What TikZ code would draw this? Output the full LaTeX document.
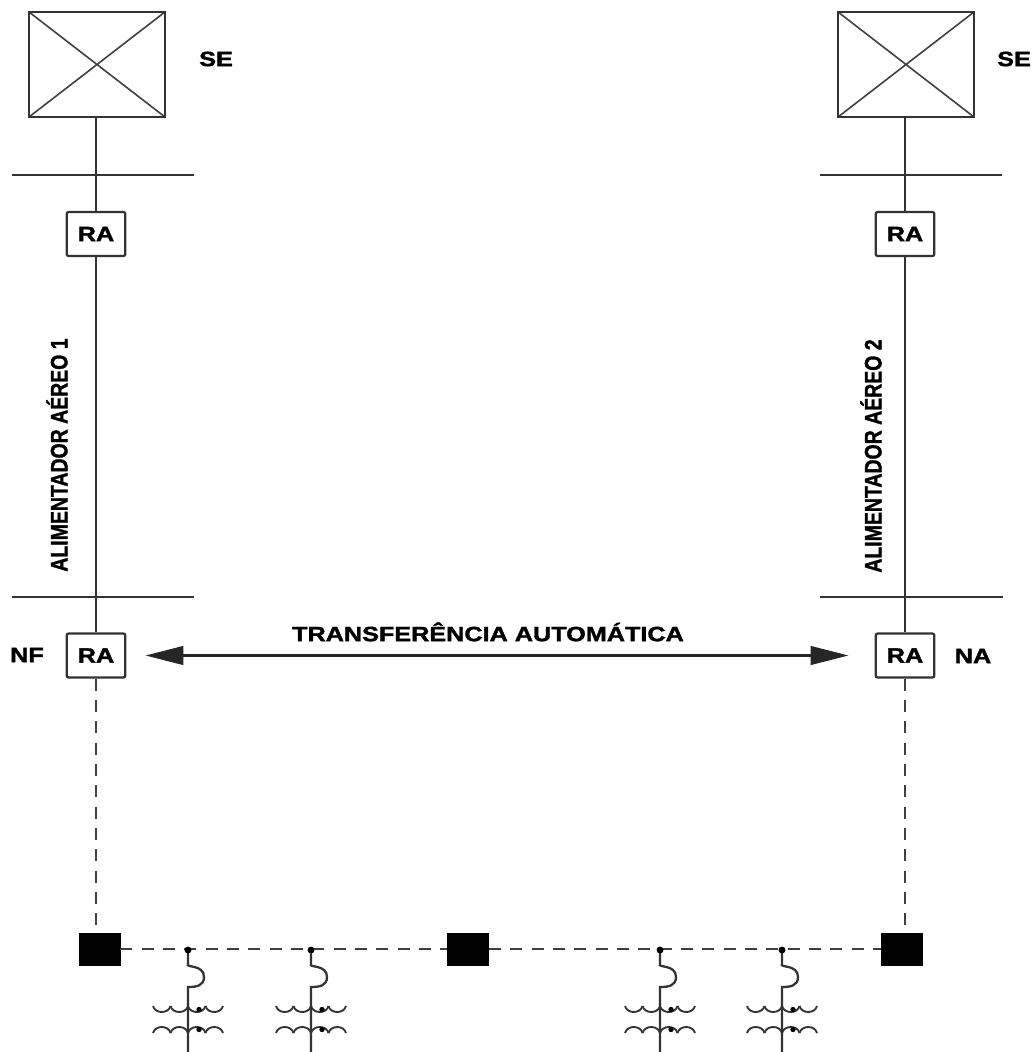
\documentclass[tikz,border=0pt]{standalone}
\usepackage{fontspec}
\usepackage{graphicx}
\setmainfont{Liberation Sans}[BoldFeatures={FakeBold=1.6}]
\usetikzlibrary{arrows.meta}
\tikzset{
  wire/.style={line width=1.7pt, draw=black!80},
  dwire/.style={line width=1.7pt, draw=black!75, dash pattern=on 9pt off 7pt},
  sebox/.style={draw=black!80, line width=1.9pt, minimum width=102pt, minimum height=78.75pt, inner sep=0pt,
    path picture={\draw[line width=1.2pt, black!75] (path picture bounding box.north west) -- (path picture bounding box.south east)
      (path picture bounding box.south west) -- (path picture bounding box.north east);}},
  rabox/.style={draw=black!80, line width=1.7pt, rounded corners=1.5pt, minimum width=44pt, minimum height=33pt, inner sep=0pt,
    font=\fontsize{15.5}{18}\selectfont\bfseries},
  sqbox/.style={fill=black, draw=black, minimum width=31pt, minimum height=24pt, inner sep=0pt},
  lbl/.style={font=\fontsize{15.5}{18}\selectfont\bfseries, inner sep=0pt},
  vlbl/.style={font=\fontsize{14.6}{17}\selectfont\bfseries, inner sep=0pt, rotate=90},
  xfmr/.pic={
    \draw[wire] (0,0) -- (0,14) .. controls (-3,18) and (16,14) .. (16,27) .. controls (16,36) and (8,37) .. (0,37) -- (0,102);
    \foreach \a in {-35,-17.5,0,17.5} {
      \draw[line width=1.4pt, black!80] (\a,56) .. controls (\a+2,64) and (\a+15.5,64) .. (\a+17.5,56);
      \draw[line width=1.4pt, black!80] (\a,83) .. controls (\a+2,75) and (\a+15.5,75) .. (\a+17.5,83);
    }
    \fill[black] (11,59.5) circle (2pt);
    \fill[black] (11,79.5) circle (2pt);
  }
}
\begin{document}
\begin{tikzpicture}[x=0.75pt,y=-0.75pt]
\useasboundingbox (0,0) rectangle (1035,1052);
% substations
\node[sebox] (seL) at (97,64.5) {};
\node[sebox] (seR) at (906,64.5) {};
\node[lbl] (seLt) at (216,59) {\scalebox{1.22}[1]{SE}};
\node[lbl] (seRt) at (1014,59) {\scalebox{1.22}[1]{SE}};
% reclosers
\node[rabox] (raL) at (96,234) {\scalebox{1.22}[1]{RA}};
\node[rabox] (raR) at (905,234) {\scalebox{1.22}[1]{RA}};
\node[rabox] (raL2) at (96,655.5) {\scalebox{1.22}[1]{RA}};
\node[rabox] (raR2) at (905,655.5) {\scalebox{1.22}[1]{RA}};
\node[lbl] (nf) at (27,655) {\scalebox{1.22}[1]{NF}};
\node[lbl] (na) at (973,656) {\scalebox{1.22}[1]{NA}};
% bus bars
\coordinate (b1a) at (12,175); \coordinate (b1b) at (194,175);
\coordinate (b2a) at (820,175); \coordinate (b2b) at (1002,175);
\coordinate (b3a) at (12,597); \coordinate (b3b) at (194,597);
\coordinate (b4a) at (820,597); \coordinate (b4b) at (1003,597);
\draw[wire] (b1a) -- (b1b);
\draw[wire] (b2a) -- (b2b);
\draw[wire] (b3a) -- (b3b);
\draw[wire] (b4a) -- (b4b);
% feeders
\draw[wire] (raL.north) -- (raL.north |- seL.south);
\draw[wire] (raR.north) -- (raR.north |- seR.south);
\draw[wire] (raL.south) -- (raL2.north);
\draw[wire] (raR.south) -- (raR2.north);
\node[vlbl] (alim1) at (57,455) {\scalebox{1}[1.22]{ALIMENTADOR AÉREO 1}};
\node[vlbl] (alim2) at (871,456) {\scalebox{1}[1.22]{ALIMENTADOR AÉREO 2}};
% transfer arrow
\draw[line width=1.7pt, black!85, {Triangle[length=28.5pt,width=14pt]}-{Triangle[length=28.5pt,width=14pt]},
  shorten <=14.25pt, shorten >=19.5pt] (raL2.east) -- (raR2.west);
\node[lbl] (tr) at (488,632) {\scalebox{1.22}[1]{TRANSFERÊNCIA AUTOMÁTICA}};
% underground section
\node[sqbox] (sqL) at (99.5,949) {};
\node[sqbox] (sqM) at (468,949) {};
\node[sqbox] (sqR) at (902,949) {};
\draw[dwire] (raL2.south) -- (raL2.south |- sqL.north);
\draw[dwire] (raR2.south) -- (raR2.south |- sqR.north);
\draw[dwire] (sqL.east) -- (sqM.west);
\draw[dwire] (sqM.east) -- (sqR.west);
\coordinate (t1) at (188,950);
\coordinate (t2) at (311,950);
\coordinate (t3) at (660,950);
\coordinate (t4) at (782,950);
\foreach \t in {t1,t2,t3,t4} {
  \pic at (\t) {xfmr};
  \fill[black] (\t) circle (2.6pt);
}
\end{tikzpicture}
\end{document}
